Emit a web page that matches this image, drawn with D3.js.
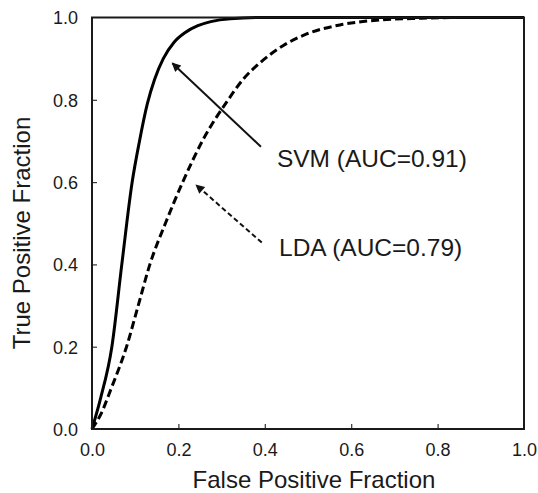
<!DOCTYPE html>
<html>
<head>
<meta charset="utf-8">
<script src="https://cdn.jsdelivr.net/npm/d3@7"></script>
<style>
  body { margin: 0; background: #fff; }
  text { font-family: "Liberation Sans", Arial, sans-serif; fill: #1a1a1a; }
</style>
</head>
<body>
<script>
// ROC curves
var svmFpf = [0, 0.02, 0.046, 0.069, 0.093, 0.11, 0.128, 0.145, 0.165, 0.19, 0.215, 0.245, 0.275, 0.32, 0.4, 1.0];
var svmTpf = [0, 0.075, 0.2, 0.4, 0.6, 0.7, 0.79, 0.85, 0.9, 0.94, 0.963, 0.98, 0.99, 0.997, 1.0, 1.0];
var ldaFpf = [0, 0.02, 0.045, 0.08, 0.107, 0.134, 0.17, 0.21, 0.257, 0.312, 0.35, 0.389, 0.443, 0.497, 0.574, 0.667, 0.76, 0.85, 1.0];
var ldaTpf = [0, 0.035, 0.1, 0.2, 0.3, 0.4, 0.5, 0.6, 0.703, 0.795, 0.85, 0.89, 0.932, 0.96, 0.982, 0.994, 0.998, 1.0, 1.0];
var tickValues = [0, 0.2, 0.4, 0.6, 0.8, 1.0];
var labels = ['SVM (AUC=0.91)', 'LDA (AUC=0.79)'];
// annotation arrows, [tail, tip] in data units
var svmArrow = [[0.391, 0.686], [0.186, 0.889]];
var ldaArrow = [[0.393, 0.453], [0.241, 0.593]];
var svmLabelAt = [0.428, 0.637];
var ldaLabelAt = [0.433, 0.421];

var width = 538, height = 493;
var margin = {top: 17.5, right: 14, bottom: 64, left: 92};

var svg = d3.select('body').append('svg')
  .attr('width', width).attr('height', height);

var x = d3.scaleLinear().domain([0, 1]).range([margin.left, width - margin.right]);
var y = d3.scaleLinear().domain([0, 1]).range([height - margin.bottom, margin.top]);

var defs = svg.append('defs');
defs.append('marker')
  .attr('id', 'head')
  .attr('viewBox', '0 0 10 10')
  .attr('refX', 9).attr('refY', 5)
  .attr('markerWidth', 12).attr('markerHeight', 9)
  .attr('markerUnits', 'userSpaceOnUse')
  .attr('orient', 'auto')
  .append('path').attr('d', 'M0,0 L10,5 L0,10 Z').attr('fill', '#111');

// curves
var line = d3.line()
  .x(function (d) { return x(d[0]); })
  .y(function (d) { return y(d[1]); })
  .curve(d3.curveMonotoneX);

svg.append('path')
  .datum(d3.zip(svmFpf, svmTpf))
  .attr('d', line)
  .attr('fill', 'none').attr('stroke', '#000').attr('stroke-width', 3);

svg.append('path')
  .datum(d3.zip(ldaFpf, ldaTpf))
  .attr('d', line)
  .attr('fill', 'none').attr('stroke', '#000').attr('stroke-width', 3)
  .attr('stroke-dasharray', '8,4');

// axes (ticks inward)
var xAxis = svg.append('g')
  .attr('transform', 'translate(0,' + y(0) + ')')
  .call(d3.axisBottom(x).tickValues(tickValues).tickFormat(d3.format('.1f'))
    .tickSizeInner(-5).tickSizeOuter(0).tickPadding(14));
var yAxis = svg.append('g')
  .attr('transform', 'translate(' + x(0) + ',0)')
  .call(d3.axisLeft(y).tickValues(tickValues).tickFormat(d3.format('.1f'))
    .tickSizeInner(-5).tickSizeOuter(0).tickPadding(14));

[xAxis, yAxis].forEach(function (g) {
  g.select('.domain').remove();
  g.selectAll('.tick line').attr('stroke', '#333').attr('stroke-width', 1.2);
  g.selectAll('.tick text').style('font-size', '18px').attr('fill', '#1a1a1a');
});
// no inner tick marks at the ends
xAxis.selectAll('.tick line').filter(function (d) { return d === 0 || d === 1; }).remove();
yAxis.selectAll('.tick line').filter(function (d) { return d === 0 || d === 1; }).remove();
yAxis.selectAll('.tick text').attr('dy', '0.35em');

// frame
svg.append('rect')
  .attr('x', x(0)).attr('y', y(1))
  .attr('width', x(1) - x(0)).attr('height', y(0) - y(1))
  .attr('fill', 'none').attr('stroke', '#1a1a1a').attr('stroke-width', 2);

// axis titles
svg.append('text')
  .attr('x', (x(0) + x(1)) / 2 + 6).attr('y', 488)
  .attr('text-anchor', 'middle').style('font-size', '24px')
  .text('False Positive Fraction');
svg.append('text')
  .attr('transform', 'translate(30,233) rotate(-90)')
  .attr('text-anchor', 'middle').style('font-size', '24px')
  .text('True Positive Fraction');

// annotations
svg.append('line')
  .attr('x1', x(svmArrow[0][0])).attr('y1', y(svmArrow[0][1]))
  .attr('x2', x(svmArrow[1][0])).attr('y2', y(svmArrow[1][1]))
  .attr('stroke', '#111').attr('stroke-width', 2)
  .attr('marker-end', 'url(#head)');
svg.append('line')
  .attr('x1', x(ldaArrow[0][0])).attr('y1', y(ldaArrow[0][1]))
  .attr('x2', x(ldaArrow[1][0])).attr('y2', y(ldaArrow[1][1]))
  .attr('stroke', '#111').attr('stroke-width', 2)
  .attr('stroke-dasharray', '5,3')
  .attr('marker-end', 'url(#head)');

svg.append('text')
  .attr('x', x(svmLabelAt[0])).attr('y', y(svmLabelAt[1]))
  .style('font-size', '24.5px').text(labels[0]);
svg.append('text')
  .attr('x', x(ldaLabelAt[0])).attr('y', y(ldaLabelAt[1]))
  .style('font-size', '24.5px').text(labels[1]);
</script>
</body>
</html>
